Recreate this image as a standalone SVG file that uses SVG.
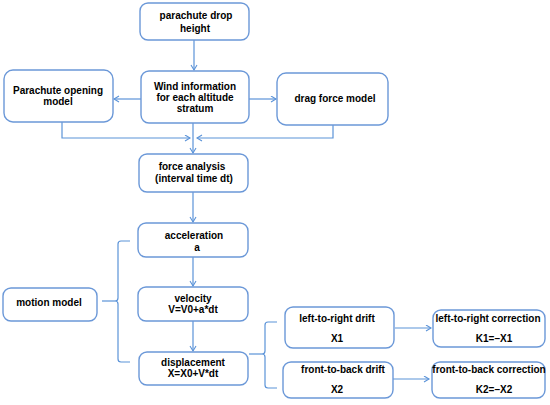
<svg xmlns="http://www.w3.org/2000/svg" width="550" height="405" viewBox="0 0 550 405">
<style>
.box{fill:#fff;stroke:#6b98d8;stroke-width:1.4}
.ln{fill:none;stroke:#5b93d8;stroke-width:1.2}
text{font-family:"Liberation Sans",Arial,sans-serif;font-weight:bold;font-size:10px;fill:#000;text-anchor:middle}
</style>
<defs>
<marker id="ah" markerWidth="8" markerHeight="8" refX="6" refY="3.5" orient="auto" markerUnits="userSpaceOnUse">
<path d="M1,0.5 L6,3.5 L1,6.5" fill="none" stroke="#5b93d8" stroke-width="1.1"/>
</marker>
</defs>
<rect width="550" height="405" fill="#fff"/>
<g id="connectors">
<path class="ln" d="M194,40 V70" marker-end="url(#ah)"/>
<path class="ln" d="M141,99 H114" marker-end="url(#ah)"/>
<path class="ln" d="M249,99 H276" marker-end="url(#ah)"/>
<path class="ln" d="M62,122 V138 H190" marker-end="url(#ah)"/>
<path class="ln" d="M333,125 V138 H197" marker-end="url(#ah)"/>
<path class="ln" d="M193,123 V153" marker-end="url(#ah)"/>
<path class="ln" d="M193,192 V222" marker-end="url(#ah)"/>
<path class="ln" d="M193,257 V286" marker-end="url(#ah)"/>
<path class="ln" d="M193,321 V351" marker-end="url(#ah)"/>
<path class="ln" d="M395,328 H431" marker-end="url(#ah)"/>
<path class="ln" d="M393,379 H429" marker-end="url(#ah)"/>
<path class="ln" d="M130,241 H121 Q118,241 118,244 V298 Q118,301 115,301 Q118,301 118,304 V359 Q118,362 121,362 H130"/>
<path class="ln" d="M102,301 H115"/>
<path class="ln" d="M277,322 H268 Q265,322 265,325 V351 Q265,354 262,354 Q265,354 265,357 V385 Q265,388 268,388 H277"/>
<path class="ln" d="M249,354 H262"/>
</g>
<g id="drop"><rect class="box" x="140" y="3" width="109" height="37" rx="8"/><text x="196" y="19">parachute drop</text><text x="195" y="32">height</text></g>
<g id="wind"><rect class="box" x="141" y="71" width="108" height="52" rx="8"/><text x="195" y="90">Wind information</text><text x="195" y="101">for each altitude</text><text x="195" y="112">stratum</text></g>
<g id="opening"><rect class="box" x="4" y="70" width="109" height="52" rx="9"/><text x="58" y="94">Parachute opening</text><text x="58" y="105">model</text></g>
<g id="drag"><rect class="box" x="277" y="73" width="111" height="52" rx="9"/><text x="335" y="102">drag force model</text></g>
<g id="force"><rect class="box" x="139" y="154" width="109" height="38" rx="8"/><text x="192" y="170">force analysis</text><text x="194" y="182">(interval time dt)</text></g>
<g id="accel"><rect class="box" x="138" y="223" width="110" height="34" rx="8"/><text x="194" y="239">acceleration</text><text x="197" y="251">a</text></g>
<g id="velocity"><rect class="box" x="138" y="287" width="110" height="34" rx="8"/><text x="193" y="302">velocity</text><text x="193" y="313">V=V0+a*dt</text></g>
<g id="displacement"><rect class="box" x="139" y="352" width="109" height="33" rx="8"/><text x="193" y="366">displacement</text><text x="193" y="377">X=X0+V*dt</text></g>
<g id="motion"><rect class="box" x="3" y="288" width="94" height="33" rx="8"/><text x="49" y="306">motion model</text></g>
<g id="lrdrift"><rect class="box" x="285" y="307" width="109" height="41" rx="8"/><text x="337" y="322">left-to-right drift</text><text x="337" y="342">X1</text></g>
<g id="lrcorr"><rect class="box" x="433" y="310" width="112" height="37" rx="8"/><text x="488" y="322">left-to-right correction</text><text x="494" y="342">K1=–X1</text></g>
<g id="fbdrift"><rect class="box" x="283" y="362" width="110" height="36" rx="8"/><text x="343" y="373">front-to-back drift</text><text x="337" y="393">X2</text></g>
<g id="fbcorr"><rect class="box" x="432" y="362" width="113" height="36" rx="8"/><text x="489" y="373">front-to-back correction</text><text x="494" y="393">K2=–X2</text></g>
</svg>
